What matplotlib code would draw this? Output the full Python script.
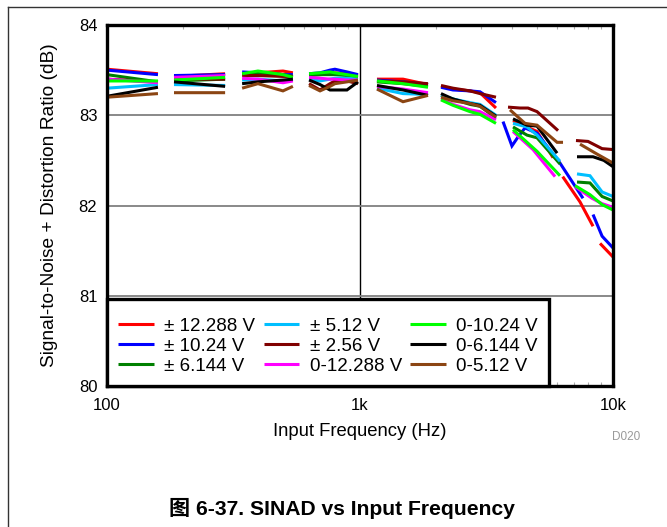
import numpy as np
import matplotlib
matplotlib.use("Agg")
import matplotlib.pyplot as plt
from matplotlib.lines import Line2D
from matplotlib.ticker import FixedLocator, NullFormatter

plt.rcParams["font.family"] = ["Liberation Sans", "Noto Sans CJK SC", "DejaVu Sans"]

nan = np.nan

# ── 1. Datos ─────────────────────────────────────────────────────────────────
# rejilla comun hasta ~3.5 kHz, los huecos (nan) separan los tramos
freq_lo = [100, 159, nan, 184, 293, nan, 342, 395, 496, 543, nan,
           629, 695, 761, 796, 888, 982, nan, 1167, 1479, 1857, nan,
           2090, 2331, 2721, 2980, 3447]

red_lo = [83.51, 83.46, nan, 83.43, 83.46, nan, 83.46, 83.47, 83.49, 83.47, nan,
          83.45, 83.45, 83.46, 83.47, 83.46, 83.44, nan, 83.40, 83.40, 83.34, nan,
          83.32, 83.29, 83.27, 83.25, 83.08]
blue_lo = [83.50, 83.45, nan, 83.44, 83.45, nan, 83.48, 83.47, 83.45, 83.45, nan,
           83.46, 83.47, 83.50, 83.51, 83.48, 83.45, nan, 83.39, 83.37, 83.34, nan,
           83.31, 83.28, 83.27, 83.26, 83.14]
dkgreen_lo = [83.45, 83.37, nan, 83.38, 83.40, nan, 83.46, 83.47, 83.45, 83.43, nan,
              83.44, 83.45, 83.45, 83.45, 83.44, 83.42, nan, 83.37, 83.35, 83.32, nan,
              83.22, 83.18, 83.12, 83.10, 82.97]
cyan_lo = [83.30, 83.34, nan, 83.34, 83.33, nan, 83.39, 83.40, 83.38, 83.40, nan,
           83.40, 83.38, 83.40, 83.41, 83.41, 83.40, nan, 83.30, 83.24, 83.23, nan,
           83.22, 83.18, 83.14, 83.12, 83.00]
darkred_lo = [83.40, 83.37, nan, 83.40, 83.40, nan, 83.44, 83.44, 83.43, 83.43, nan,
              83.35, 83.28, 83.35, 83.38, 83.38, 83.35, nan, 83.38, 83.37, 83.35, nan,
              83.33, 83.30, 83.27, 83.24, 83.20]
magenta_lo = [83.40, 83.36, nan, 83.42, 83.44, nan, 83.41, 83.40, 83.36, 83.38, nan,
              83.42, 83.41, 83.40, 83.40, 83.39, 83.39, nan, 83.32, 83.29, 83.25, nan,
              83.18, 83.12, 83.06, 83.04, 82.95]
green_lo = [83.38, 83.38, nan, 83.39, 83.42, nan, 83.46, 83.49, 83.45, 83.42, nan,
            83.46, 83.47, 83.48, 83.47, 83.45, 83.43, nan, 83.38, 83.35, 83.31, nan,
            83.17, 83.11, 83.04, 83.01, 82.91]
black_lo = [83.21, 83.31, nan, 83.37, 83.32, nan, 83.35, 83.37, 83.39, 83.40, nan,
            83.39, 83.34, 83.28, 83.28, 83.28, 83.37, nan, 83.33, 83.28, 83.22, nan,
            83.24, 83.18, 83.13, 83.11, 82.99]
brown_lo = [83.20, 83.24, nan, 83.25, 83.25, nan, 83.30, 83.35, 83.27, 83.32, nan,
            83.33, 83.27, 83.32, 83.35, 83.37, 83.39, nan, 83.29, 83.15, 83.22, nan,
            83.20, 83.16, 83.13, 83.10, 82.98]

# tramos por encima de ~3.5 kHz, cada serie con su propia frecuencia
red_hi_f = [4025, 4571, 5010, 5795, nan, 6327, 7406, 8338, nan, 8888, 10000]
red_hi = [82.94, 82.87, 82.82, 82.53, nan, 82.32, 82.04, 81.77, nan, 81.58, 81.43]
blue_hi_f = [3675, 3986, 4214, 4490, 5010, 6173, 7610, nan, 8338, 9055, 10000]
blue_hi = [82.93, 82.66, 82.76, 82.86, 82.80, 82.47, 82.08, nan, 81.90, 81.66, 81.53]
dkgreen_hi_f = [4025, 4571, 5010, 6173, nan, 7206, 8110, 9055, 10000]
dkgreen_hi = [82.87, 82.78, 82.75, 82.46, nan, 82.26, 82.25, 82.10, 82.05]
cyan_hi_f = [4025, 4571, 5010, 6173, nan, 7206, 8110, 9055, 10000]
cyan_hi = [82.91, 82.87, 82.78, 82.49, nan, 82.35, 82.33, 82.15, 82.10]
darkred_hi_f = [3846, 4290, 4613, 5010, 6065, nan, 7140, 7965, 9055, 10000]
darkred_hi = [83.09, 83.08, 83.08, 83.04, 82.83, nan, 82.72, 82.71, 82.63, 82.62]
magenta_hi_f = [4025, 4828, 5902, nan, 7079, 8260, 9055, 10000]
magenta_hi = [82.82, 82.62, 82.32, nan, 82.21, 82.08, 82.02, 81.98]
green_hi_f = [4025, 5010, 6173, nan, 7079, 8110, 9055, 10000]
green_hi = [82.84, 82.60, 82.33, nan, 82.22, 82.12, 82.01, 81.95]
black_hi_f = [4025, 4571, 5010, 6012, nan, 7206, 8338, 9200, 10000]
black_hi = [82.96, 82.89, 82.88, 82.58, nan, 82.54, 82.54, 82.50, 82.43]
brown_hi_f = [3915, 4490, 5010, 6012, 6345, nan, 7406, 8643, 10000]
brown_hi = [83.06, 82.91, 82.89, 82.70, 82.70, nan, 82.68, 82.57, 82.47]

labels = ["± 12.288 V", "± 10.24 V", "± 6.144 V",
          "± 5.12 V", "± 2.56 V", "0-12.288 V",
          "0-10.24 V", "0-6.144 V", "0-5.12 V"]
colors = ["#FF0000", "#0000FF", "#008000",
          "#00BFFF", "#800000", "#FF00FF",
          "#00FF00", "#000000", "#8B4513"]

series = [
    (red_lo, red_hi_f, red_hi),
    (blue_lo, blue_hi_f, blue_hi),
    (dkgreen_lo, dkgreen_hi_f, dkgreen_hi),
    (cyan_lo, cyan_hi_f, cyan_hi),
    (darkred_lo, darkred_hi_f, darkred_hi),
    (magenta_lo, magenta_hi_f, magenta_hi),
    (green_lo, green_hi_f, green_hi),
    (black_lo, black_hi_f, black_hi),
    (brown_lo, brown_hi_f, brown_hi),
]

x_ticks = [100, 1000, 10000]
x_ticklabels = ["100", "1k", "10k"]
y_ticks = [80, 81, 82, 83, 84]

# ── 2. Grafico ───────────────────────────────────────────────────────────────
fig = plt.figure(figsize=(6.67, 5.27), dpi=100)
ax = fig.add_axes([107 / 667, 1 - 386 / 527, (613 - 107) / 667, (386 - 25) / 527])

for (lo, hi_f, hi), lab, col in zip(series, labels, colors):
    f = list(freq_lo) + [nan] + list(hi_f)
    y = list(lo) + [nan] + list(hi)
    ax.plot(f, y, color=col, linewidth=2.2, label=lab, solid_capstyle="butt",
            solid_joinstyle="miter")

# ── 3. Formato ───────────────────────────────────────────────────────────────
ax.set_xscale("log")
ax.set_xlim(100, 10000)
ax.set_ylim(80, 84)
ax.xaxis.set_major_locator(FixedLocator(x_ticks))
ax.set_xticklabels(x_ticklabels)
ax.xaxis.set_minor_locator(FixedLocator([200, 300, 400, 500, 600, 700, 800, 900,
                                         2000, 3000, 4000, 5000, 6000, 7000, 8000, 9000]))
ax.xaxis.set_minor_formatter(NullFormatter())
ax.set_yticks(y_ticks)

ax.tick_params(which="major", length=0, labelsize=12)
ax.tick_params(axis="x", which="major", pad=9)
ax.tick_params(axis="y", which="major", pad=7)
ax.tick_params(which="minor", direction="in", top=True, bottom=True, length=3,
               width=0.8, color="#AAAAAA")

ax.yaxis.grid(True, color="#808080", linewidth=1.3)
ax.xaxis.grid(True, which="major", color="black", linewidth=1.0)
ax.set_axisbelow(True)

for s in ax.spines.values():
    s.set_linewidth(2.4)
    s.set_color("black")

ax.set_xlabel("Input Frequency (Hz)", fontsize=13.3, labelpad=7)
ax.set_ylabel("Signal-to-Noise + Distortion Ratio (dB)", fontsize=13.8, labelpad=15)

leg = ax.legend(loc="lower left", ncol=3, frameon=True, fancybox=False,
                edgecolor="black", framealpha=1, borderaxespad=0, fontsize=13.5,
                handlelength=1.9, handletextpad=0.55, columnspacing=0.45,
                labelspacing=0.15, borderpad=0.6, title=" ", title_fontsize=4)
leg.get_frame().set_linewidth(2.4)

# marco de la pagina
fig.add_artist(Line2D([8 / 667, 8 / 667], [0, 1 - 7 / 527], color="#333333", linewidth=1))
fig.add_artist(Line2D([8 / 667, 1], [1 - 7 / 527, 1 - 7 / 527], color="#333333", linewidth=1))

fig.text(640 / 667, 1 - 437 / 527, "D020", ha="right", va="center", fontsize=8.5,
         color="#9A9A9A")
fig.text(342 / 667, 1 - 508 / 527, "图 6-37. SINAD vs Input Frequency",
         ha="center", va="center", fontsize=15.2, fontweight="bold")

# ── 4. Guardar ───────────────────────────────────────────────────────────────
plt.savefig("out.png", dpi=100)
plt.close()
